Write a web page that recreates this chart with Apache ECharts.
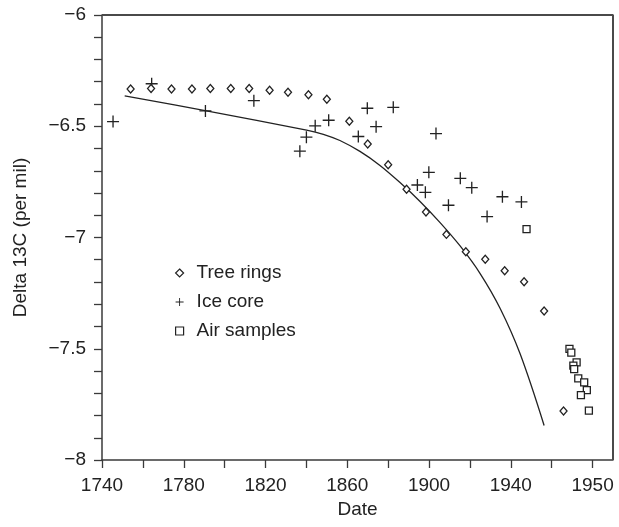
<!DOCTYPE html>
<html>
<head>
<meta charset="utf-8">
<script src="https://cdn.jsdelivr.net/npm/echarts@6/dist/echarts.min.js"></script>
<style>
  html, body { margin: 0; padding: 0; background: #fff; }
  #chart { width: 619px; height: 527px; }
</style>
</head>
<body>
<div id="chart"></div>
<script>
// tree rings (diamonds)
const treeYears = [1754, 1764, 1774, 1784, 1793, 1803, 1812, 1822, 1831, 1841, 1850, 1861, 1870, 1880, 1889, 1898.5, 1908.5, 1918, 1927.5, 1937, 1946.5, 1956.3, 1965.8];
const treeVals = [-6.333, -6.33, -6.333, -6.333, -6.33, -6.33, -6.33, -6.338, -6.347, -6.358, -6.379, -6.478, -6.58, -6.673, -6.783, -6.885, -6.986, -7.064, -7.098, -7.149, -7.199, -7.33, -7.78];

// ice core (plus signs)
const iceYears = [1745.4, 1764.3, 1790.6, 1814.3, 1836.8, 1840, 1844.3, 1850.9, 1865.4, 1869.8, 1874.1, 1882.5, 1894.3, 1898.2, 1899.9, 1903.4, 1909.5, 1915.3, 1920.9, 1928.4, 1935.9, 1945.2];
const iceVals = [-6.479, -6.309, -6.431, -6.385, -6.612, -6.549, -6.498, -6.473, -6.546, -6.419, -6.502, -6.415, -6.764, -6.797, -6.707, -6.533, -6.855, -6.734, -6.776, -6.906, -6.817, -6.84];

// air samples (squares)
const airYears = [1947.7, 1968.7, 1969.6, 1972.2, 1970.6, 1971, 1973, 1975.9, 1977.2, 1974.3, 1978.2];
const airVals = [-6.962, -7.501, -7.517, -7.561, -7.576, -7.592, -7.633, -7.651, -7.686, -7.708, -7.778];

// fitted curve
const fitYears = [1751.1, 1791.1, 1840.1, 1848.3, 1856.4, 1866.2, 1876.0, 1885.8, 1895.6, 1905.4, 1915.2, 1925.0, 1934.8, 1944.6, 1956.3];
const fitVals = [-6.363, -6.431, -6.517, -6.536, -6.564, -6.613, -6.676, -6.753, -6.838, -6.933, -7.038, -7.162, -7.319, -7.524, -7.845];

const xTickValues = [1740, 1760, 1780, 1800, 1820, 1840, 1860, 1880, 1900, 1920, 1940, 1960, 1980];
const xLabelValues = [1740, 1780, 1820, 1860, 1900, 1940, 1980];
const xLabelTexts = ['1740', '1780', '1820', '1860', '1900', '1940', '1950'];

const xMin = 1740, xMax = 1990, yMin = -8, yMax = -6;

const ink = '#222';
const axisGray = '#3a3a3a';
const font = "'Liberation Sans', Arial, sans-serif";
const plusPath = 'path://M0,8.9H20V11.1H0Z M8.9,0H11.1V20H8.9Z';

const zip = (xs, ys) => xs.map((x, i) => [x, ys[i]]);

const chart = echarts.init(document.getElementById('chart'));
chart.setOption({
  animation: false,
  textStyle: { fontFamily: font, color: ink },
  grid: { left: 102, right: 6, top: 15, bottom: 67 },
  legend: {
    orient: 'vertical',
    left: 170, top: 258,
    itemWidth: 8, itemHeight: 8,
    itemGap: 9,
    textStyle: { fontSize: 19, color: ink, fontFamily: font, lineHeight: 20, padding: [0, 0, 0, 8] },
    data: [
      { name: 'Tree rings', icon: 'diamond', itemStyle: { color: '#fff', borderColor: ink, borderWidth: 1.2 } },
      { name: 'Ice core', icon: plusPath, itemStyle: { color: ink, borderWidth: 0 } },
      { name: 'Air samples', icon: 'rect', itemStyle: { color: '#fff', borderColor: ink, borderWidth: 1.2 } }
    ]
  },
  xAxis: {
    type: 'value',
    min: xMin, max: xMax,
    name: 'Date', nameLocation: 'middle', nameGap: 38,
    nameTextStyle: { fontSize: 19, color: ink },
    axisLine: { show: true, onZero: false, lineStyle: { color: axisGray, width: 1.5 } },
    axisTick: { show: true, length: 8, customValues: xTickValues, lineStyle: { color: axisGray, width: 1.3 } },
    axisLabel: {
      fontSize: 19, color: ink, margin: 16,
      customValues: xLabelValues,
      formatter: v => {
        const i = xLabelValues.indexOf(v);
        return i >= 0 ? xLabelTexts[i] : '';
      }
    },
    splitLine: { show: false }
  },
  yAxis: {
    type: 'value',
    min: yMin, max: yMax, interval: 0.1,
    name: 'Delta 13C (per mil)', nameLocation: 'middle', nameGap: 72,
    nameTextStyle: { fontSize: 19, color: ink },
    axisLine: { show: true, onZero: false, lineStyle: { color: axisGray, width: 1.5 } },
    axisTick: { show: true, length: 8, lineStyle: { color: axisGray, width: 1.3 } },
    axisLabel: {
      fontSize: 19, color: ink, margin: 16,
      formatter: v => {
        const r = Math.round(v * 2) / 2;
        if (Math.abs(v - r) > 1e-6) return '';
        return String(r).replace('-', '\u2212');
      }
    },
    splitLine: { show: false }
  },
  series: [
    {
      // top and right edges of the plot box
      name: 'frame', type: 'line',
      data: [[xMin, yMax], [xMax, yMax], [xMax, yMin]],
      showSymbol: false, clip: false, silent: true,
      lineStyle: { color: '#4a4a4a', width: 2 }, z: 5
    },
    {
      name: 'Fit', type: 'line', data: zip(fitYears, fitVals),
      showSymbol: false, smooth: 0.35,
      lineStyle: { color: ink, width: 1.3 }, z: 1
    },
    {
      name: 'Tree rings', type: 'scatter', data: zip(treeYears, treeVals),
      symbol: 'diamond', symbolSize: [7, 8],
      itemStyle: { color: '#fff', borderColor: ink, borderWidth: 1.3, opacity: 1 }, z: 3
    },
    {
      name: 'Ice core', type: 'scatter', data: zip(iceYears, iceVals),
      symbol: plusPath, symbolSize: 12,
      itemStyle: { color: ink, opacity: 1 }, z: 2
    },
    {
      name: 'Air samples', type: 'scatter', data: zip(airYears, airVals),
      symbol: 'rect', symbolSize: 7,
      itemStyle: { color: '#fff', borderColor: ink, borderWidth: 1.3, opacity: 1 }, z: 4
    }
  ]
});
</script>
</body>
</html>
